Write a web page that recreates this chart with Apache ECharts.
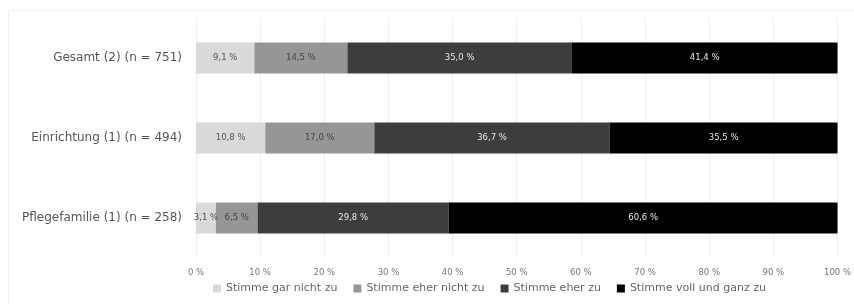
<!DOCTYPE html>
<html>
<head>
<meta charset="utf-8">
<script src="https://cdn.jsdelivr.net/npm/echarts@6/dist/echarts.min.js"></script>
<style>
  html, body { margin: 0; padding: 0; background: #fff; }
  #chart { width: 854px; height: 304px; }
  .frame { position: absolute; left: 8px; top: 10px; width: 860px; height: 300px; border: 1px solid #f0f0f0; }
</style>
</head>
<body>
<div class="frame"></div>
<div id="chart" style="position:absolute;left:0;top:0;"></div>
<script>
// Kategorien (von oben nach unten)
const categories = ['Gesamt (2) (n = 751)', 'Einrichtung (1) (n = 494)', 'Pflegefamilie (1) (n = 258)'];
const seriesNames = ['Stimme gar nicht zu', 'Stimme eher nicht zu', 'Stimme eher zu', 'Stimme voll und ganz zu'];
const garNicht = [9.1, 10.8, 3.1];
const eherNicht = [14.5, 17.0, 6.5];
const eherZu = [35.0, 36.7, 29.8];
const vollGanz = [41.4, 35.5, 60.6];
const xTicks = [0, 10, 20, 30, 40, 50, 60, 70, 80, 90, 100];

const colors = ['#dadada', '#969696', '#3d3d3d', '#000000'];
const labelColors = ['#555', '#444', '#e6e6e6', '#e6e6e6'];
const values = [garNicht, eherNicht, eherZu, vollGanz];
const font = '"DejaVu Sans", "Noto Sans", sans-serif';

let myChart = echarts.init(document.getElementById('chart'));
myChart.setOption({
  animation: false,
  textStyle: { fontFamily: font },
  grid: { left: 196, right: 12, top: 18, bottom: 46 },
  legend: {
    data: seriesNames,
    bottom: 5,
    left: 208,
    itemWidth: 8,
    itemHeight: 8,
    itemGap: 16,
    icon: 'rect',
    textStyle: { color: '#666', fontSize: 11, fontFamily: font }
  },
  xAxis: {
    type: 'value',
    min: xTicks[0],
    max: xTicks[xTicks.length - 1],
    interval: 10,
    axisLine: { show: false },
    axisTick: { show: false },
    splitLine: { lineStyle: { color: '#efefef' } },
    axisLabel: { color: '#777', fontSize: 8.5, margin: 10, formatter: '{value} %' }
  },
  yAxis: {
    type: 'category',
    inverse: true,
    data: categories,
    axisLine: { show: false },
    axisTick: { show: false },
    axisLabel: { color: '#555', fontSize: 12, margin: 14 }
  },
  series: seriesNames.map((name, i) => ({
    name: name,
    type: 'bar',
    stack: 'total',
    barWidth: 31,
    data: values[i],
    itemStyle: { color: colors[i] },
    label: {
      show: true,
      position: 'inside',
      color: labelColors[i],
      fontSize: 8.5,
      formatter: p => p.value.toFixed(1).replace('.', ',') + ' %'
    }
  }))
});
</script>
</body>
</html>
